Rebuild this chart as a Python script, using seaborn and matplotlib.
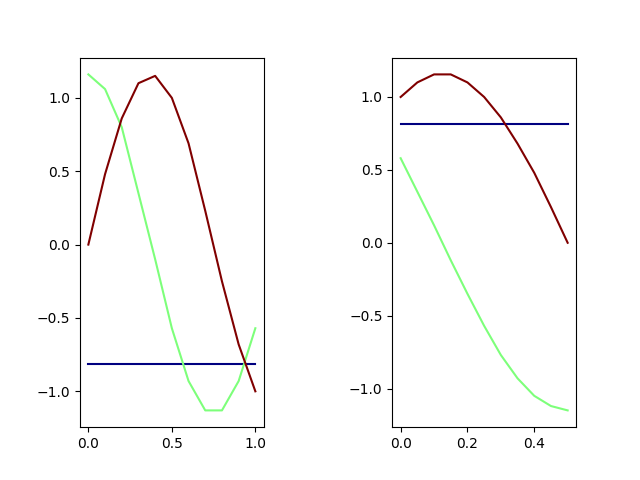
import numpy as np
import pandas as pd
import matplotlib
matplotlib.use("Agg")
import matplotlib.pyplot as plt
import seaborn as sns

# left panel values
x_left = [0.0, 0.1, 0.2, 0.3, 0.4, 0.5, 0.6, 0.7, 0.8, 0.9, 1.0]
red_left = [0.0, 0.48, 0.86, 1.10, 1.15, 1.0, 0.69, 0.23, -0.25, -0.68, -1.0]
green_left = [1.16, 1.06, 0.80, 0.35, -0.10, -0.57, -0.93, -1.13, -1.13, -0.93, -0.57]
navy_left = [-0.815] * 11

# right panel values
x_right = [0.0, 0.05, 0.1, 0.15, 0.2, 0.25, 0.3, 0.35, 0.4, 0.45, 0.5]
red_right = [1.0, 1.10, 1.155, 1.155, 1.10, 1.0, 0.86, 0.68, 0.48, 0.245, 0.0]
green_right = [0.58, 0.35, 0.12, -0.12, -0.35, -0.57, -0.77, -0.93, -1.05, -1.12, -1.15]
navy_right = [0.815] * 11

colors = {'red': '#800000', 'green': '#7dff7a', 'navy': '#000080'}

fig, axes = plt.subplots(1, 2, figsize=(6.4, 4.8), dpi=100)
fig.subplots_adjust(wspace=0.7)

panels = [
    (x_left, {'navy': navy_left, 'green': green_left, 'red': red_left}),
    (x_right, {'navy': navy_right, 'green': green_right, 'red': red_right}),
]

for ax, (xs, series) in zip(axes, panels):
    for name, ys in series.items():
        df = pd.DataFrame({'x': xs, 'y': ys})
        sns.lineplot(data=df, x='x', y='y', color=colors[name], linewidth=1.5, ax=ax)
    ax.set_xlabel('')
    ax.set_ylabel('')

axes[0].set_xticks([0.0, 0.5, 1.0])
axes[1].set_xticks([0.0, 0.2, 0.4])

plt.savefig('out.png', dpi=100)
plt.close()
